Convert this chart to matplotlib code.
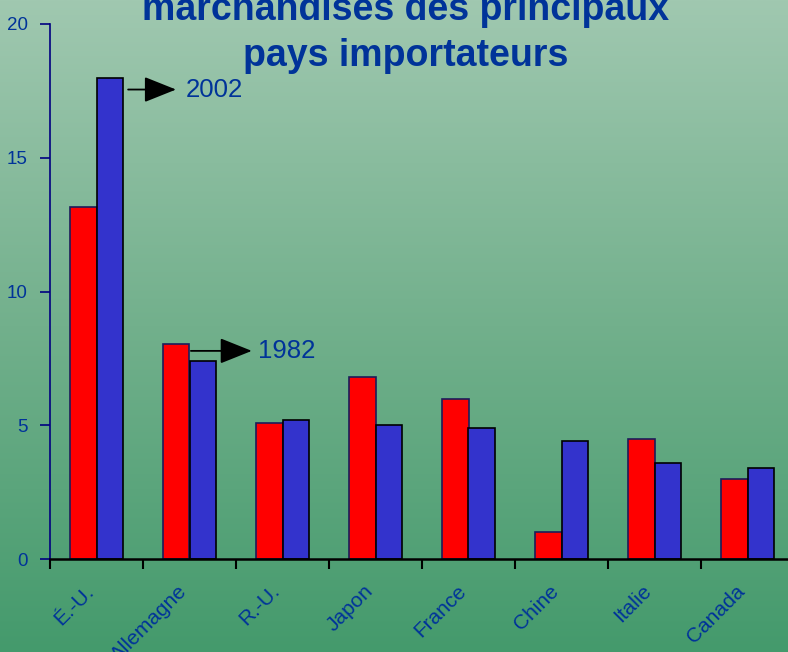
import numpy as np
import matplotlib.pyplot as plt
from matplotlib.colors import LinearSegmentedColormap

plt.rcParams["font.family"] = ["Liberation Sans", "DejaVu Sans"]

# data (share of world merchandise imports, %)
countries = ["É.-U.", "Allemagne", "R.-U.", "Japon", "France", "Chine", "Italie", "Canada"]
val_1982 = [13.15, 8.05, 5.1, 6.8, 6.0, 1.0, 4.5, 3.0]
val_2002 = [18.0, 7.4, 5.2, 5.0, 4.9, 4.4, 3.6, 3.4]
title_lines = ["marchandises des principaux", "pays importateurs"]

txt_col = "#003399"
red = "#ff0000"
blue = "#3333cc"

fig = plt.figure(figsize=(7.88, 6.52), dpi=100)

# gradient background
bg = fig.add_axes([0, 0, 1, 1], zorder=-10)
cmap = LinearSegmentedColormap.from_list("bg", ["#a0c8b0", "#72b08c", "#449a6c"])
bg.imshow(np.linspace(0, 1, 256).reshape(-1, 1), aspect="auto", cmap=cmap,
          extent=[0, 1, 0, 1])
bg.axis("off")

ax = fig.add_axes([50 / 788, 93 / 652, 744 / 788, 535 / 652])
ax.patch.set_alpha(0)

x = np.arange(len(countries))
w = 0.28
ax.bar(x - w / 2, val_1982, width=w, color=red, edgecolor="#1c1c5a", linewidth=1.2)
ax.bar(x + w / 2, val_2002, width=w, color=blue, edgecolor="black", linewidth=1.2)

ax.set_xlim(-0.5, 7.5)
ax.set_ylim(0, 20)
ax.set_yticks([0, 5, 10, 15, 20])
ax.tick_params(axis="y", direction="out", length=7, width=1.2, color="#000080",
               labelcolor=txt_col, labelsize=13.5, pad=9)
ax.set_xticks(np.arange(-0.5, 8.0, 1.0))
ax.set_xticklabels([])
ax.tick_params(axis="x", which="major", direction="out", length=7, width=1.5, color="black")
ax.set_xticks(x - 0.06, minor=True)
ax.set_xticklabels(countries, minor=True, rotation=45, ha="right", va="center",
                   rotation_mode="anchor", color=txt_col, fontsize=15)
ax.tick_params(axis="x", which="minor", length=0, pad=21)

for s in ["top", "right"]:
    ax.spines[s].set_visible(False)
ax.spines["left"].set_color("#000080")
ax.spines["left"].set_linewidth(1.2)
ax.spines["bottom"].set_color("black")
ax.spines["bottom"].set_linewidth(1.8)

# legend-like arrows
arrow = dict(arrowstyle="-|>,head_length=1.0,head_width=0.4", mutation_scale=20,
             color="black", lw=1.3, shrinkA=0, shrinkB=0)
ax.annotate("", xy=(0.855, 17.55), xytext=(0.34, 17.55), arrowprops=arrow)
ax.text(0.955, 17.55, "2002", color=txt_col, fontsize=18.5, va="center", ha="left")
ax.annotate("", xy=(1.67, 7.78), xytext=(1.015, 7.78), arrowprops=arrow)
ax.text(1.74, 7.78, "1982", color=txt_col, fontsize=18.5, va="center", ha="left")

fig.text(406 / 788, 1 - 20 / 652, title_lines[0], ha="center", va="baseline",
         fontsize=27, fontweight="bold", color=txt_col)
fig.text(406 / 788, 1 - 66 / 652, title_lines[1], ha="center", va="baseline",
         fontsize=27, fontweight="bold", color=txt_col)

fig.savefig("out.png", dpi=100)
